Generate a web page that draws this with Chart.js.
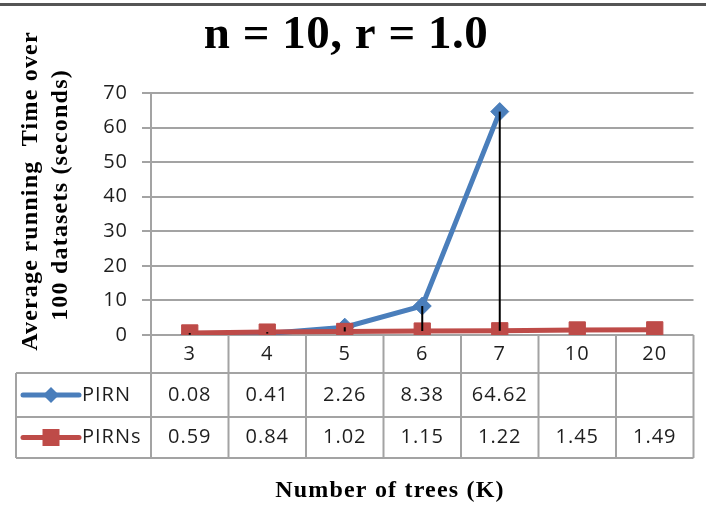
<!DOCTYPE html>
<html>
<head>
<meta charset="utf-8">
<title>n = 10, r = 1.0</title>
<style>
  html, body { margin: 0; padding: 0; background: #fff; }
  canvas { display: block; }
</style>
<script src="https://cdn.jsdelivr.net/npm/chart.js@4.4.1/dist/chart.umd.min.js"></script>
</head>
<body>
<canvas id="chart" width="706" height="508"></canvas>
<script>
// ---- data ----
const titleText = 'n = 10, r = 1.0';
const yTitleLines = ['Average running  Time over', '100 datasets (seconds)'];
const xTitleText = 'Number of trees (K)';
const categories = ['3', '4', '5', '6', '7', '10', '20'];
const seriesNames = ['PIRN', 'PIRNs'];
const pirn  = [0.08, 0.41, 2.26, 8.38, 64.62, null, null];
const pirns = [0.59, 0.84, 1.02, 1.15, 1.22, 1.45, 1.49];
const yTicks = { min: 0, max: 70, step: 10 };

// ---- styles ----
const BLUE = '#4A7EBB';
const RED = '#BE4B48';
const GRID = '#a3a3a3';
const INK = '#1e1e1e';
const SANS = '"Open Sans", "Noto Sans", sans-serif';
const SERIF = '"Liberation Serif", "Times New Roman", serif';
const TICK_FONT = { family: SANS, size: 20 };
const ROW_HEIGHTS = [44, 41];   // data-table rows below the category row
const TABLE_LEFT = 16;

function line(ctx, x1, y1, x2, y2) {
  ctx.beginPath();
  ctx.moveTo(x1, y1);
  ctx.lineTo(x2, y2);
  ctx.stroke();
}

function legendKey(ctx, idx, cx, cy) {
  ctx.save();
  const color = idx === 0 ? BLUE : RED;
  ctx.strokeStyle = color;
  ctx.fillStyle = color;
  ctx.lineWidth = 5;
  ctx.lineCap = 'round';
  line(ctx, 23, cy, 79, cy);
  ctx.beginPath();
  if (idx === 0) {
    const r = 8;
    ctx.moveTo(cx, cy - r); ctx.lineTo(cx + r, cy); ctx.lineTo(cx, cy + r); ctx.lineTo(cx - r, cy);
    ctx.closePath();
  } else {
    const s = 8.5;
    ctx.rect(cx - s, cy - s, 2 * s, 2 * s);
  }
  ctx.fill();
  ctx.restore();
}

const framePlugin = {
  id: 'frame',
  beforeDraw(chart) {
    const ctx = chart.ctx;
    ctx.save();
    ctx.fillStyle = '#fff';
    ctx.fillRect(0, 0, chart.width, chart.height);
    ctx.fillStyle = '#555';
    ctx.fillRect(0, 3, chart.width, 3);
    ctx.restore();
    ctx.letterSpacing = '1px';
  },
  // high-low lines joining the two series at each category
  afterDatasetsDraw(chart) {
    const { ctx, scales: { x, y } } = chart;
    ctx.save();
    ctx.strokeStyle = '#000';
    ctx.lineWidth = 2;
    categories.forEach((c, i) => {
      if (pirn[i] == null || pirns[i] == null) return;
      const px = x.getPixelForValue(i);
      line(ctx, px, y.getPixelForValue(pirn[i]), px, y.getPixelForValue(pirns[i]));
    });
    ctx.restore();
  },
  afterDraw(chart) {
    const { ctx, chartArea: area, scales: { x } } = chart;
    const half = (x.getPixelForValue(1) - x.getPixelForValue(0)) / 2;
    const edges = categories.map((c, i) => x.getPixelForValue(i) - half);
    edges.push(x.getPixelForValue(categories.length - 1) + half);
    const right = edges[edges.length - 1];
    const top = x.bottom;
    const r1 = top + ROW_HEIGHTS[0];
    const r2 = r1 + ROW_HEIGHTS[1];

    ctx.save();
    // data table grid
    ctx.strokeStyle = GRID;
    ctx.lineWidth = 2;
    [top, r1, r2].forEach(yy => line(ctx, TABLE_LEFT, yy, right, yy));
    line(ctx, TABLE_LEFT, top, TABLE_LEFT, r2);
    edges.forEach(ex => line(ctx, ex, area.bottom, ex, r2));

    // data table text
    ctx.fillStyle = INK;
    ctx.font = `${TICK_FONT.size}px ${SANS}`;
    ctx.letterSpacing = '1px';
    ctx.textBaseline = 'middle';
    const rows = [pirn, pirns];
    const centers = [(top + r1) / 2, (r1 + r2) / 2];
    rows.forEach((vals, ri) => {
      const cy = centers[ri];
      ctx.textAlign = 'center';
      vals.forEach((v, i) => {
        if (v == null) return;
        ctx.fillText(v.toFixed(2), x.getPixelForValue(i), cy);
      });
      legendKey(ctx, ri, 51, cy);
      ctx.fillStyle = INK;
      ctx.textAlign = 'left';
      ctx.fillText(seriesNames[ri], 82, cy);
    });

    // chart title
    ctx.fillStyle = '#000';
    ctx.textBaseline = 'alphabetic';
    ctx.textAlign = 'center';
    ctx.font = `bold 47px ${SERIF}`;
    ctx.letterSpacing = '0.5px';
    ctx.fillText(titleText, 346, 48);

    // axis titles
    ctx.font = `bold 24px ${SERIF}`;
    ctx.letterSpacing = '1.2px';
    ctx.fillText(xTitleText, 390, 497);

    ctx.textBaseline = 'middle';
    const yTitlePos = [[31, 191], [61, 195]];
    yTitleLines.forEach((t, i) => {
      ctx.save();
      ctx.translate(yTitlePos[i][0], yTitlePos[i][1]);
      ctx.rotate(-Math.PI / 2);
      ctx.fillText(t, 0, 0);
      ctx.restore();
    });
    ctx.restore();
  }
};

new Chart(document.getElementById('chart'), {
  type: 'line',
  data: {
    labels: categories,
    datasets: [
      {
        label: seriesNames[0],
        data: pirn,
        borderColor: BLUE,
        backgroundColor: BLUE,
        borderWidth: 5,
        pointStyle: 'rectRot',
        pointRadius: 9,
        pointBorderWidth: 1,
        order: 1
      },
      {
        label: seriesNames[1],
        data: pirns,
        borderColor: RED,
        backgroundColor: RED,
        borderWidth: 5,
        pointStyle: 'rect',
        pointRadius: 11.5,
        pointBorderWidth: 1,
        order: 0
      }
    ]
  },
  options: {
    responsive: false,
    animation: false,
    events: [],
    layout: { padding: { top: 93, left: 0, right: 6, bottom: 135 } },
    plugins: {
      legend: { display: false },
      tooltip: { enabled: false },
      title: { display: false }
    },
    scales: {
      x: {
        type: 'category',
        offset: true,
        grid: { display: false, drawTicks: false },
        border: { display: false },
        ticks: { font: TICK_FONT, color: INK, padding: 7, maxRotation: 0, autoSkip: false },
        afterFit(scale) { scale.height = 38; }
      },
      y: {
        min: yTicks.min,
        max: yTicks.max,
        ticks: { stepSize: yTicks.step, font: TICK_FONT, color: INK, padding: 14 },
        grid: { color: GRID, lineWidth: 2, tickLength: 9 },
        border: { color: GRID, width: 2 },
        afterFit(scale) { scale.width = 151; }
      }
    }
  },
  plugins: [framePlugin]
});
</script>
</body>
</html>
